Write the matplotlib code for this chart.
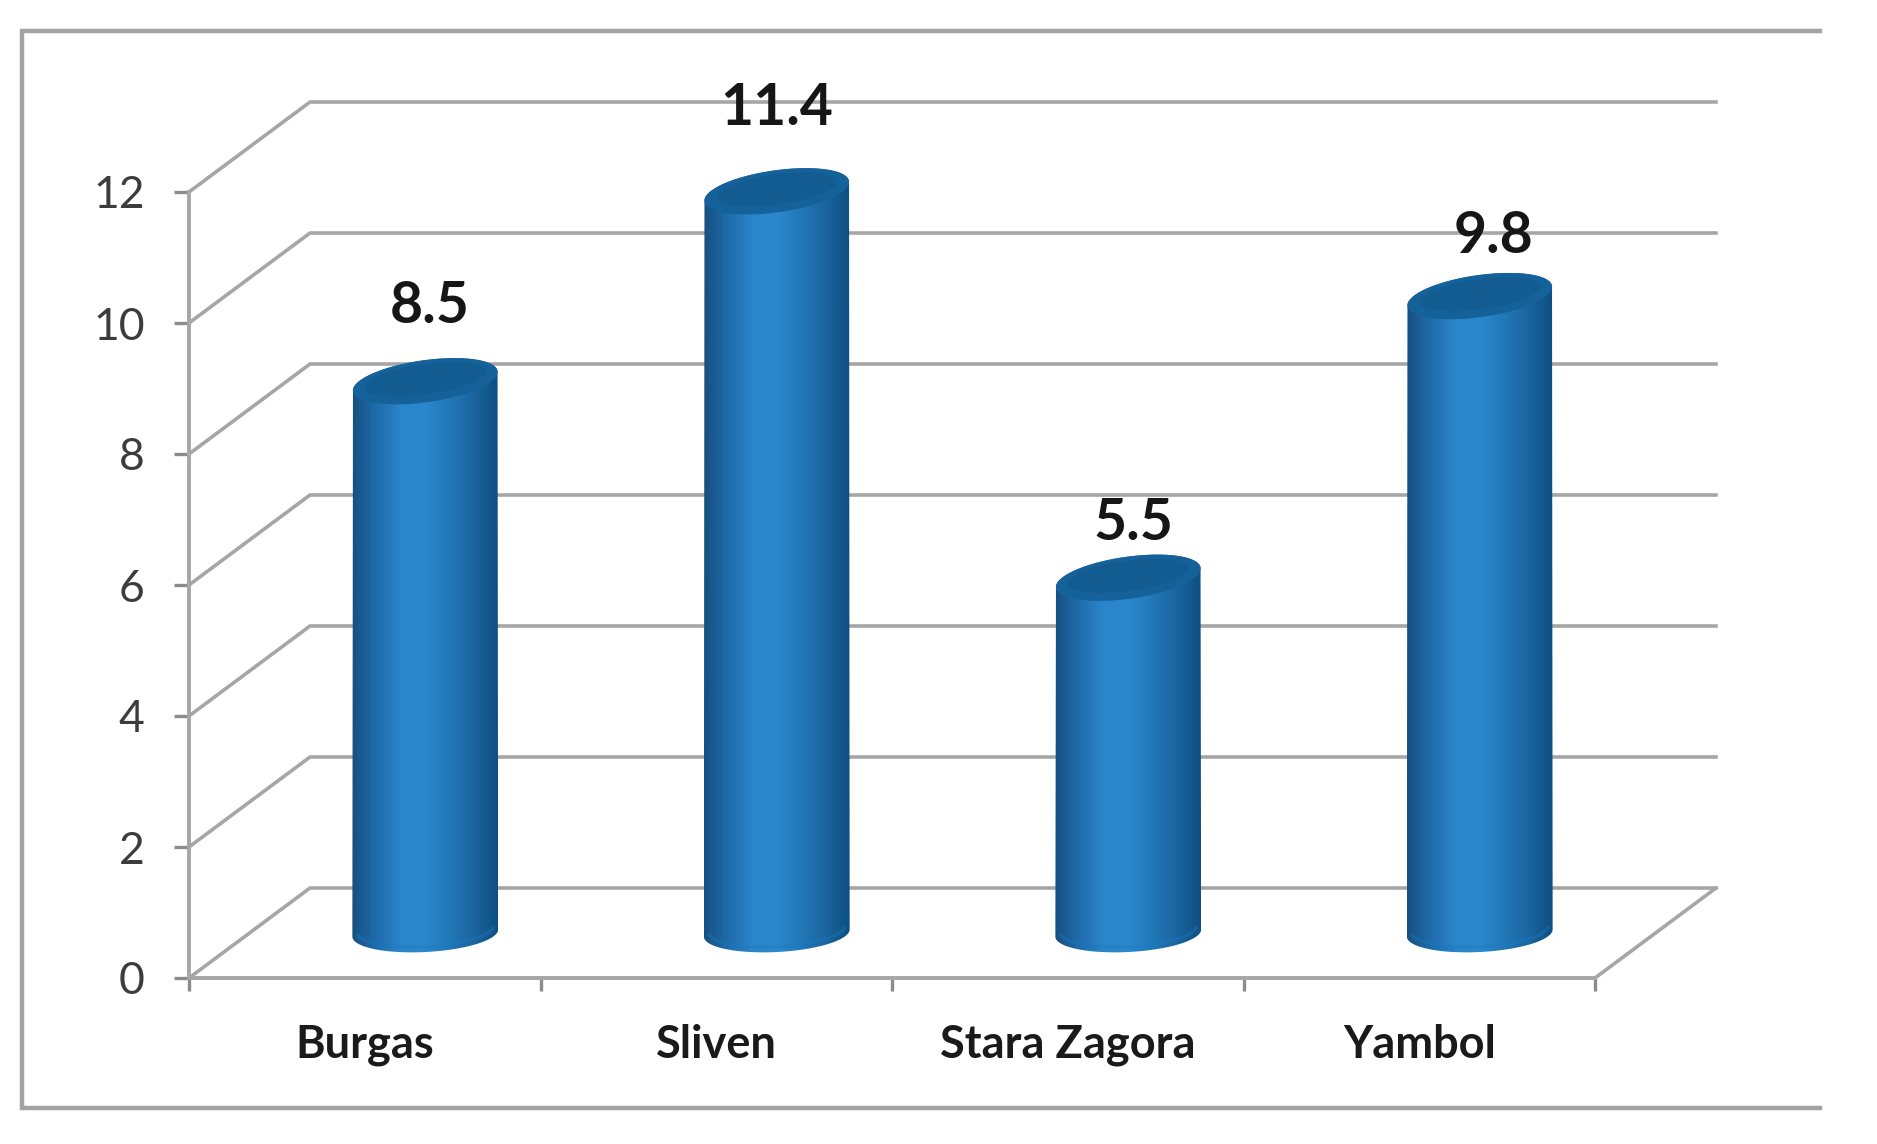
import matplotlib
matplotlib.use('Agg')
import matplotlib.pyplot as plt
import numpy as np
from matplotlib.colors import LinearSegmentedColormap
from matplotlib.lines import Line2D
from matplotlib.patches import Polygon

cities = ['Burgas', 'Sliven', 'Stara Zagora', 'Yambol']
values = [8.5, 11.4, 5.5, 9.8]
y_ticks = [0, 2, 4, 6, 8, 10, 12]

W, H = 1877, 1144
# plot box in pixels of the image
left, right, y_bottom, y_top = 189, 1595, 978, 192
depth_x, depth_y = 121, 90
line_col = '#a6a6a6'
text_col = '#3c3c3c'

plt.rcParams['font.family'] = ['Lato', 'DejaVu Sans']
fig = plt.figure(figsize=(W / 100, H / 100), dpi=100, facecolor='white')
ax = fig.add_axes([left / W, 1 - y_bottom / H, (right - left) / W, (y_bottom - y_top) / H])
ax.patch.set_visible(False)

# how many data units one pixel is
px_x = len(cities) / (right - left)
px_y = 12 / (y_bottom - y_top)
dx = depth_x * px_x
dy = depth_y * px_y

# back wall and side wall gridlines
for t in y_ticks:
    ax.plot([0, dx, len(cities) + dx], [t, t + dy, t + dy], color=line_col, lw=2.6,
            clip_on=False, zorder=1, solid_joinstyle='miter')
ax.plot([len(cities), len(cities) + dx], [0, dy], color=line_col, lw=2.6, clip_on=False, zorder=1)


def ellipse(cx, cy, w, h, tilt, a0=0, a1=2 * np.pi, n=80):
    # tilted ellipse worked out in pixels, returned in data units
    a = np.linspace(a0, a1, n)
    ex = w / 2 * np.cos(a)
    ey = h / 2 * np.sin(a)
    t = np.radians(tilt)
    x = ex * np.cos(t) - ey * np.sin(t)
    y = ex * np.sin(t) + ey * np.cos(t)
    return np.column_stack([cx + x * px_x, cy + y * px_y])


shade = LinearSegmentedColormap.from_list('cyl', ['#174f80', '#1f6cab', '#2a86cb', '#2b88cd',
                                                  '#2278b8', '#1a659f', '#0d4f80'])
gradient = np.linspace(0, 1, 256).reshape(1, -1)
cyl_w = 146
cyl_h = 42
for i, (name, v) in enumerate(zip(cities, values)):
    cx = i + 0.5 + dx / 2
    base = dy / 2
    top = v + dy / 2 - 5 * px_y
    # body: top half line of lid, bottom half of base
    low = ellipse(cx, base, cyl_w, 38, 3, np.pi, 2 * np.pi)
    up = ellipse(cx, top, cyl_w, cyl_h, 8, 0, np.pi)
    body = Polygon(np.vstack([low, up]), closed=True, facecolor='none', edgecolor='none',
                   transform=ax.transData)
    ax.add_patch(body)
    im = ax.imshow(gradient, extent=[cx - cyl_w / 2 * px_x, cx + cyl_w / 2 * px_x, base - 30 * px_y, top + 40 * px_y],
                   aspect='auto', cmap=shade, zorder=3)
    # the tallest one goes past the top of the axes
    im.set_clip_box(fig.bbox)
    im.set_clip_path(body)
    # lighter rim on the base
    rim = ellipse(cx, base + 5 * px_y, cyl_w - 8, 38, 3, np.pi * 1.06, np.pi * 1.94)
    ax.plot(rim[:, 0], rim[:, 1], color='#1a78bd', lw=2.5, alpha=0.4, zorder=4, clip_on=False)
    # lid
    ax.add_patch(Polygon(ellipse(cx, top, cyl_w, cyl_h, 8), closed=True, facecolor='#15619a',
                         edgecolor='none', zorder=5, clip_on=False))
    ax.add_patch(Polygon(ellipse(cx, top + 2 * px_y, cyl_w - 24, cyl_h - 12, 8), closed=True, facecolor='#125c92',
                         edgecolor='none', zorder=5, clip_on=False))

# value labels sit a bit above each lid, nudged like the original
label_gap = [75, 83, 54, 60]
label_nudge = [4, 0, 5, 14]
for i, v in enumerate(values):
    cx = i + 0.5 + dx / 2
    ax.annotate(f'{v}', (cx, v + dy / 2 - 5 * px_y),
                xytext=(label_nudge[i] * 0.72, label_gap[i] * 0.72), textcoords='offset points',
                ha='center', va='center', fontsize=41, fontweight='bold', color='#161616',
                zorder=6, annotation_clip=False)

ax.set_xlim(0, len(cities))
ax.set_ylim(0, 12)
for s in ['top', 'right']:
    ax.spines[s].set_visible(False)
for s in ['left', 'bottom']:
    ax.spines[s].set_color(line_col)
    ax.spines[s].set_linewidth(2.8)
ax.set_xticks(range(len(cities) + 1))
ax.set_xticklabels([])
ax.set_xticks([i + 0.5 for i in range(len(cities))], cities, minor=True)
ax.tick_params(axis='x', which='major', length=9, width=2.4, color='#8c8c8c')
ax.tick_params(axis='x', which='minor', length=0, pad=33, labelsize=32.5, labelcolor='#1a1a1a')
for lab in ax.get_xticklabels(minor=True):
    lab.set_fontweight('bold')
ax.set_yticks(y_ticks)
ax.tick_params(axis='y', length=11, width=2.4, color='#8c8c8c', pad=21, labelsize=32, labelcolor=text_col)

# outer frame, open on the right
frame_x = [1820 / W, 22 / W, 22 / W, 1820 / W]
frame_y = [1 - 31 / H, 1 - 31 / H, 1 - 1108 / H, 1 - 1108 / H]
fig.add_artist(Line2D(frame_x, frame_y, color='#a3a3a3', lw=3.2, solid_joinstyle='miter'))

fig.savefig('out.png', dpi=100)
